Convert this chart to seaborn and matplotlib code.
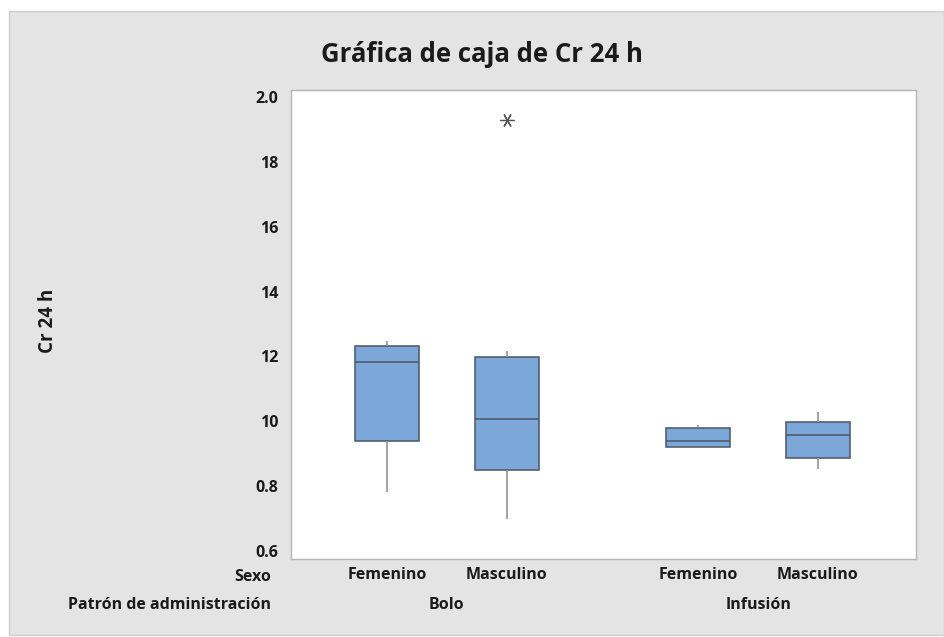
import numpy as np
import pandas as pd
import matplotlib
matplotlib.use("Agg")
import matplotlib.pyplot as plt
import matplotlib.transforms as mtransforms
from matplotlib.patches import Rectangle
import seaborn as sns

# ---- data ----
sexo = ["Femenino", "Masculino", "Femenino", "Masculino"]
patron = ["Bolo", "Bolo", "Infusión", "Infusión"]
cr_bolo_fem = [0.781, 0.938, 1.183, 1.232, 1.247]
cr_bolo_masc = [0.699, 0.780, 0.851, 0.930, 1.008, 1.100, 1.198, 1.216, 1.928]
cr_inf_fem = [0.922, 0.922, 0.938, 0.979, 0.988]
cr_inf_masc = [0.852, 0.887, 0.958, 0.999, 1.030]
group_values = [cr_bolo_fem, cr_bolo_masc, cr_inf_fem, cr_inf_masc]
ytick_values = [0.6, 0.8, 1.0, 1.2, 1.4, 1.6, 1.8, 2.0]
ytick_labels = ["0.6", "0.8", "10", "12", "14", "16", "18", "2.0"]

# layout: group positions on the x axis (gap between administration patterns)
x_pos = [0.0, 1.0, 2.6, 3.6]

rows = []
for i, vals in enumerate(group_values):
    for v in vals:
        rows.append({"pos": x_pos[i], "Sexo": sexo[i], "Patron": patron[i], "Cr 24 h": v})
df = pd.DataFrame(rows)

sns.set_theme(style="white")
plt.rcParams["font.family"] = ["Open Sans", "DejaVu Sans"]

W, H, DPI = 944, 637, 100
fig = plt.figure(figsize=(W / DPI, H / DPI), dpi=DPI)
fig.patch.set_facecolor("white")
# gray panel
fig.patches.append(Rectangle((9 / W, 2 / H), 1 - 9 / W, 1 - 13 / H, transform=fig.transFigure,
                             facecolor="#e4e4e4", edgecolor="#cfcfcf", linewidth=1, zorder=-10))

ax = fig.add_axes([291 / W, 1 - 559 / H, (916 - 291) / W, (559 - 90) / H])
ax.set_facecolor("white")

box_color = "#7ba7d9"
edge_dark = "#4d5563"
whisk_col = "#8a8a8a"
sns.boxplot(data=df, x="pos", y="Cr 24 h", native_scale=True, ax=ax,
            color=box_color, saturation=1, width=0.535, whis=1.5,
            showcaps=False,
            boxprops=dict(edgecolor=edge_dark, linewidth=1.1),
            medianprops=dict(color=edge_dark, linewidth=1.1),
            whiskerprops=dict(color=whisk_col, linewidth=1.1),
            flierprops=dict(marker=(6, 2, 90), markersize=10, markeredgecolor="#555555",
                            markerfacecolor="#555555", markeredgewidth=0.9))

ax.set_xlim(-0.802, 4.419)
ax.set_ylim(0.5755, 2.0215)
ax.set_yticks(ytick_values)
ax.set_yticklabels(ytick_labels)
ax.set_xticks(x_pos)
ax.set_xticklabels(sexo)
ax.set_xlabel("")
ax.set_ylabel("")
for s in ax.spines.values():
    s.set_color("#b4b4b4")
    s.set_linewidth(1.0)
    s.set_visible(True)
ax.tick_params(axis="both", which="major", direction="out", width=1,
               color="#b4b4b4", labelsize=11.5, labelcolor="#1a1a1a")
ax.tick_params(axis="x", length=4, pad=2)
ax.tick_params(axis="y", length=6, pad=3)
for lab in ax.get_xticklabels() + ax.get_yticklabels():
    lab.set_fontweight("bold")

# group labels
trans = mtransforms.blended_transform_factory(ax.transData, fig.transFigure)
groups = []
for i, p in enumerate(patron):
    if p not in [g[0] for g in groups]:
        groups.append((p, [x_pos[j] for j in range(len(patron)) if patron[j] == p]))
for name, ps in groups:
    fig.text(np.mean(ps), 1 - 605 / H, name, transform=trans, ha="center", va="center",
             fontsize=11.5, fontweight="bold", color="#1a1a1a")

fig.text(271 / W, 1 - 577 / H, "Sexo", ha="right", va="center", fontsize=11.5,
         fontweight="bold", color="#1a1a1a")
fig.text(271 / W, 1 - 605 / H, "Patrón de administración", ha="right", va="center",
         fontsize=11.5, fontweight="bold", color="#1a1a1a")
fig.text(48 / W, 1 - 321 / H, "Cr 24 h", rotation=90, ha="center", va="center",
         fontsize=13.5, fontweight="bold", color="#1a1a1a")
fig.text(482 / W, 1 - 55 / H, "Gráfica de caja de Cr 24 h", ha="center", va="center",
         fontsize=18.5, fontweight="bold", color="#1a1a1a")

fig.savefig("out.png", dpi=DPI, facecolor=fig.get_facecolor())
